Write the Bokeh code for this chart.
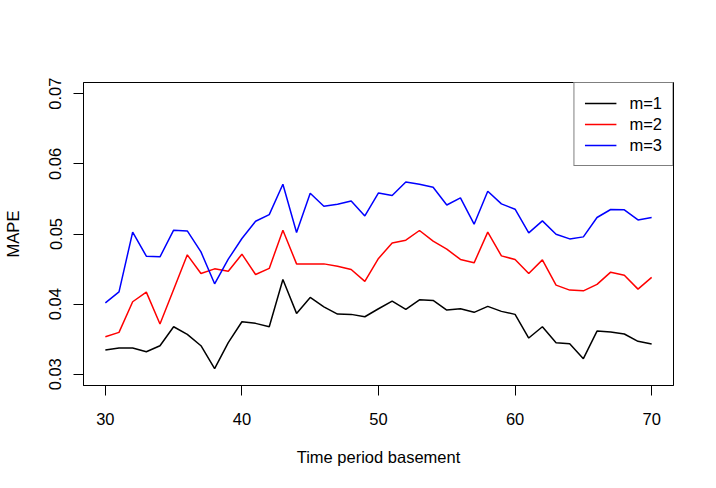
from bokeh.plotting import figure
from bokeh.models import Range1d, FixedTicker, Legend, LegendItem
from bokeh.embed import file_html
from bokeh.resources import INLINE

x = list(range(30, 71))

m1 = [0.03346, 0.03374, 0.03374, 0.03322, 0.03407, 0.03678, 0.03569, 0.03407, 0.0308, 0.0345,
      0.03749, 0.03726, 0.03678, 0.04352, 0.03868, 0.04096, 0.03962, 0.03858, 0.03854, 0.0382,
      0.03934, 0.04043, 0.03925, 0.04062, 0.04053, 0.03915, 0.03934, 0.03883, 0.03968, 0.03897,
      0.03854, 0.03517, 0.03678, 0.0345, 0.03436, 0.03222, 0.03616, 0.03602, 0.03574, 0.0347, 0.03431]

m2 = [0.03536, 0.03597, 0.04034, 0.04171, 0.03716, 0.0421, 0.04703, 0.04437, 0.04503, 0.0447,
      0.04712, 0.04423, 0.04509, 0.05054, 0.04574, 0.04574, 0.04574, 0.04541, 0.04494, 0.04324,
      0.04651, 0.04873, 0.04912, 0.0505, 0.04898, 0.04784, 0.04637, 0.04589, 0.05026, 0.04688,
      0.04637, 0.04437, 0.04631, 0.04271, 0.042, 0.0419, 0.04281, 0.04456, 0.04413, 0.04214, 0.04381]

m3 = [0.04019, 0.04176, 0.05026, 0.04684, 0.04674, 0.05054, 0.05044, 0.04745, 0.0429, 0.04641,
      0.04936, 0.05182, 0.05277, 0.05709, 0.05021, 0.05581, 0.05396, 0.05424, 0.05471, 0.05258,
      0.05585, 0.05548, 0.05742, 0.05709, 0.05666, 0.05414, 0.05514, 0.0514, 0.0561, 0.05429,
      0.05353, 0.05016, 0.05187, 0.04997, 0.0493, 0.04959, 0.05235, 0.05349, 0.05344, 0.05201, 0.05235]

series_names = ["m=1", "m=2", "m=3"]
series_colors = ["#000000", "#FF0000", "#0000FF"]

x_ticks = [30, 40, 50, 60, 70]
y_ticks = [0.03, 0.04, 0.05, 0.06, 0.07]
y_tick_labels = ["0.03", "0.04", "0.05", "0.06", "0.07"]

FONT = "Liberation Sans"
FS = "16.5px"

p = figure(width=700, height=472, output_backend="svg", toolbar_location=None,
           x_range=Range1d(28.4, 71.6), y_range=Range1d(0.0284, 0.0716),
           min_border_left=82, min_border_right=27, min_border_top=82, min_border_bottom=87)

p.grid.visible = False
p.outline_line_color = "#000000"
p.outline_line_width = 1
p.background_fill_color = "white"
p.border_fill_color = "white"

items = []
for ys, name, col in zip([m1, m2, m3], series_names, series_colors):
    r = p.line(x, ys, line_color=col, line_width=1.5)
    items.append(LegendItem(label=name, renderers=[r]))

for ax in (p.xaxis[0], p.yaxis[0]):
    ax.axis_line_color = "#000000"
    ax.major_tick_line_color = "#000000"
    ax.minor_tick_line_color = None
    ax.major_tick_out = 10
    ax.major_tick_in = 0
    ax.major_label_text_font = FONT
    ax.major_label_text_font_size = FS
    ax.major_label_text_color = "#000000"
    ax.axis_label_text_font = FONT
    ax.axis_label_text_font_size = FS
    ax.axis_label_text_font_style = "normal"
    ax.axis_label_text_color = "#000000"

p.xaxis[0].ticker = FixedTicker(ticks=x_ticks)
p.yaxis[0].ticker = FixedTicker(ticks=y_ticks)
p.yaxis[0].major_label_overrides = {t: l for t, l in zip(y_ticks, y_tick_labels)}
p.yaxis[0].major_label_orientation = "vertical"
p.xaxis[0].major_label_standoff = 17
p.yaxis[0].major_label_standoff = 12
p.xaxis[0].axis_label = "Time period basement"
p.yaxis[0].axis_label = "MAPE"
p.xaxis[0].axis_label_standoff = 20
p.yaxis[0].axis_label_standoff = 25

legend = Legend(items=items, location="top_right", margin=0, padding=10, spacing=1,
                glyph_width=32, glyph_height=20, label_height=20, label_standoff=13,
                label_text_font=FONT, label_text_font_size=FS, label_text_color="#000000",
                border_line_color="#000000", border_line_width=1,
                background_fill_color="white", background_fill_alpha=1.0)
p.add_layout(legend)

open("out.html", "w").write(file_html(p, INLINE))
